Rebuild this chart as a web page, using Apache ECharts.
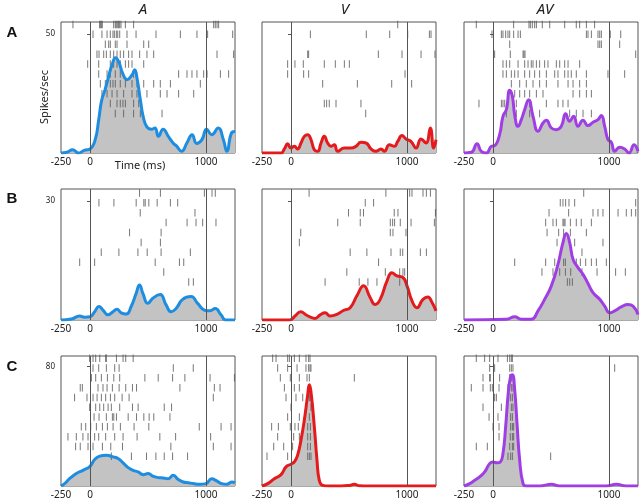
<!DOCTYPE html>
<html><head><meta charset="utf-8">
<script src="https://cdn.jsdelivr.net/npm/echarts@6/dist/echarts.min.js"></script>
<style>html,body{margin:0;padding:0;background:#fff}#c{width:640px;height:500px}</style>
</head><body><div id="c"></div>
<script>
const conditions = ['A', 'V', 'AV'];
const rowNames = ['A', 'B', 'C'];
const xTickLabels = [-250, 0, 1000];
const stimLines = [0, 1000];
const rateTicks = [50, 30, 80];
const rateMax = [55, 33, 87];
const lineColors = ['#1c8de0', '#e41a1c', '#a03ee6'];

// PSTH (time ms, spikes/sec)
const psthA_A = [[-250,0],[-200,0.3],[-150,1.4],[-100,0],[-50,1.1],[0,1.7],[45,5.6],[75,14],[100,22],[130,26.6],[160,32],[190,37],[220,40],[250,38],[280,33.6],[320,30.8],[365,33],[385,35],[405,31.5],[435,22],[460,15],[490,11],[530,10],[560,10.5],[590,7],[630,10],[675,7],[720,4],[745,3],[790,0.7],[835,4.2],[880,7.7],[920,4],[965,5.6],[1005,10],[1050,7.7],[1105,10.5],[1150,5.6],[1180,0.7],[1220,8.4],[1250,9]];
const psthV_A = [[-250,0],[-86,0],[-57,1.7],[-29,3.9],[0,2.1],[29,2.8],[57,1.7],[86,4.2],[115,7],[144,7.7],[172,5.6],[201,1.4],[230,0.7],[259,4.2],[287,7],[316,4.2],[345,2.8],[374,3.5],[402,0.7],[460,2.1],[517,2.1],[560,2.8],[603,4.5],[647,4.2],[690,1.7],[733,0.7],[776,1.7],[805,0.7],[848,3.5],[891,2.8],[920,4.9],[957,7.3],[991,5.9],[1034,4.9],[1078,2.1],[1121,5.9],[1164,4.2],[1201,10.5],[1230,2.1],[1250,5.6]];
const psthAV_A = [[-250,0],[-187,0.3],[-138,3.9],[-101,0.7],[-57,0],[-14,2.8],[14,3.1],[57,7.7],[86,15.4],[115,18.2],[144,26.3],[167,23.8],[187,16],[216,11.2],[244,14],[273,18.2],[307,22.4],[345,15.4],[388,9.1],[431,12.6],[460,13.7],[503,10.5],[546,9.8],[589,11.2],[626,16.5],[661,13.3],[695,15.4],[733,11.2],[776,13.7],[819,11.5],[862,12.9],[905,14],[934,15.7],[963,11.2],[991,5.6],[1020,4.5],[1049,0.7],[1092,2.4],[1135,1.7],[1172,0],[1216,3.5],[1250,0.7]];
const psthA_B = [[-250,0],[-161,0.25],[-89,1.0],[-46,0.7],[0,0.8],[40,2.1],[77,3.4],[112,2.5],[155,1.3],[198,2.1],[232,2.7],[269,1.8],[312,1.5],[355,3.4],[398,6.7],[427,8.8],[456,6.7],[499,4.2],[542,5.5],[605,6.4],[656,3.8],[699,2.1],[742,2.9],[799,5.2],[871,5.9],[928,4.2],[986,2.5],[1029,2.3],[1080,2.9],[1129,1.3],[1172,0],[1250,0]];
const psthV_B = [[-250,0],[-9,0],[35,1.0],[84,2.1],[135,1.2],[207,0.4],[251,1.3],[294,1.8],[337,1.0],[395,1.4],[452,2.4],[510,3.1],[568,6.1],[626,8.6],[683,5.6],[726,3.9],[769,5.2],[827,9.8],[870,11.9],[914,11.1],[965,10.7],[1000,8.6],[1043,4.8],[1086,3.1],[1138,5.2],[1179,5.8],[1216,4.4],[1250,2.3]];
const psthAV_B = [[-250,0],[115,0.2],[187,0.8],[244,0.2],[330,0.2],[388,2.3],[445,5.2],[503,8.6],[560,14],[603,19.5],[632,21.8],[661,19.5],[690,15.3],[733,13.2],[776,11.5],[819,9.2],[862,6.9],[920,5.2],[963,3.5],[1006,1.8],[1049,2.3],[1106,3.3],[1164,3.9],[1207,3.5],[1250,1.4]];
const psthA_C = [[-250,0],[-219,1.6],[-176,4.9],[-118,8.3],[-61,10.5],[0,13.2],[40,17.7],[84,20],[141,20.6],[199,19.5],[242,18.4],[285,15.5],[329,12.3],[372,10.5],[415,9.4],[458,7.6],[501,8.3],[545,6.5],[588,5.6],[631,5.4],[674,4.9],[718,7.2],[761,4.3],[804,2.7],[847,2.2],[890,1.6],[948,1.1],[1000,1.6],[1049,4.9],[1092,3.4],[1135,1.6],[1179,1.1],[1222,2.7],[1250,2.0]];
const psthV_C = [[-250,0],[-201,1.6],[-144,4.9],[-86,7.6],[-43,12.8],[0,14.6],[29,16.1],[57,20.6],[86,30.7],[115,44.2],[144,61],[158,67.7],[172,63.2],[201,39.7],[224,17.3],[244,3.8],[273,0.4],[330,0],[431,0],[503,0.4],[546,1.1],[589,0.2],[661,0],[1250,0]];
const psthAV_C = [[-250,0],[-201,1.6],[-158,3.8],[-115,6.1],[-72,9.4],[-29,15],[0,16.1],[34,15.5],[63,16.1],[86,21.7],[109,39.7],[129,59.9],[149,72.2],[167,74.4],[187,64.3],[207,41.9],[230,17.3],[259,1.6],[287,0],[402,0],[503,1.1],[575,0],[977,0],[1063,1.1],[1149,0],[1250,0]];

// Rasters: one array of spike times (ms) per trial
const rasterA_A = [
[-147,83,89,98,106,204,218,227,239,247,256,267,305,376,1066,1080,1095,1109],
[26,103,147,175,198,210,227,239,256,319,397,569,779,922,1014,1230],
[132,161,175,218,233,319,463,506],
[60,78,118,141,175,204,233,261,290,333,362,428,491,549,1095,1238],
[-20,75,175,204,233,261,305,333,362,463],
[75,147,175,218,261,376,764,836,879,922,980,1009,1124,1195],
[89,132,175,198,218,261,305,362,405,463,549,606,693,951],
[103,147,190,233,290,362,405,491,606,664,764,894],
[175,233,261,284,305,376,420],
[218,290,376,434,621]];
const rasterV_A = [
[920],
[167,649,851,1006,1193,1207],
[],
[144,152,753,957,1121,1241],
[-29,34,106,287,382,460,503],
[-29,109,152,983],
[273,572,868,1040],
[],
[287,307,330,388,603],
[644]];
const rasterAV_A = [
[-144,178,310,322,339,359,374,425,489,618,718,747,805,876],
[-9,72,86,109,129,144,178,216,236,805,819,848,905,920,934,1011,1101],
[144,905,920,934,1092],
[14,149,259,267,276,1230],
[86,115,144,216,273,302,330,345,374,402,445,474,546,575,618,647,747],
[86,115,158,187,216,273,316,359,402,460,532,560,618,647,675,718,805,991,1135],
[158,230,287,345,402,460,560,647,690,747,805],
[187,230,273,316,374,431,690,747,805,848],
[-121,72,86,101,201,316,460,560,603,647],
[115,201,316,402,661,718,776,848]];
const rasterA_B = [
[427,607,986,1052,1080],
[77,206,398,464,476,507,579,693,756],
[433,905],
[656,837,914,971,1086],
[341,613],
[441,607],
[97,249,413,493,613,865],
[-89,40,562,771,808],
[636],
[851,891]];
const rasterV_B = [
[156,818,1023,1043,1138,1167,1202],
[640,712],
[496,597,625,890,922,1245],
[403,597,856,876,893,942,1035,1236],
[84,856,879,991],
[72],
[510,654,862,942,963,1115,1167],
[755],
[481,813,937,965,980],
[294,588,663,741,937]];
const rasterAV_B = [
[782],
[580,603,626,655,704,1230],
[483,652,862,905,948,1078,1149,1193,1230],
[454,517,546,603,612,621,667,718,761,848],
[466,566,609,667,805],
[552,661,704,948],
[767],
[187,454,532,609,624,718,753,799,848,891,977],
[422,517,575,624,670,767,897,1057,1141],
[641,661,684]];
const rasterA_C = [
[-3,26,49,84,135,141,228,285,308,372],
[26,75,141,213,251,718,890],
[12,49,98,150,205,256,473,588,712,818,1035,1245],
[-84,-66,69,112,147,193,251,308,366,401,775,1072,1121],
[-133,-26,26,61,98,135,176,213,277,337,1063],
[-3,49,84,118,156,184,256,366,415,640,703],
[35,78,141,193,205,228,329,401,464,510,550,689],
[-75,-37,6,55,107,150,199,262,380,507,942,1130,1216],
[-190,-118,-61,-17,40,75,135,213,285,406,602,738,1040],
[-124,-84,-17,26,107,179,280,697,1063,1216],
[184,357,487,568,640,712,841]];
const rasterV_C = [
[-158,-129,-29,-14,29,72,129,152,164],
[-115,-29,52,129,152,164,172],
[-92,-6,72,138,158,546],
[-57,29,72,158],
[-43,43,101,158,172],
[0,172],
[-29,72,158],
[-167,-109,-6,34,63,144,167],
[-115,23,72,144,167],
[-149,-63,14,144,167],
[-207,-29,144,158,172]];
const rasterAV_C = [
[-144,-72,-29,43,124,144,158,167],
[-29,14,144,158,172,1049],
[-86,-29,-23,57,144,158,172],
[-187,-86,-23,-6,52,129,158,172],
[14,29,152,167],
[-86,72,158,172],
[-34,43,152,167],
[0,52,152,167,178],
[52,149,167,178],
[-144,-49,144,167,178],
[129,152,167,497]];

const psths = [[psthA_A, psthV_A, psthAV_A],[psthA_B, psthV_B, psthAV_B],[psthA_C, psthV_C, psthAV_C]];
const rasters = [[rasterA_A, rasterV_A, rasterAV_A],[rasterA_B, rasterV_B, rasterAV_B],[rasterA_C, rasterV_C, rasterAV_C]];

// layout
const gridLeft = [61, 262, 464];
const gridTop = [22, 189, 356];
const gridH = [131, 131, 130];
const gridW = 174;
const trialRange = [[-0.25, 13.0], [-0.4, 12.85], [-0.23, 13.04]];
const FONT = 'Noto Sans';

const grid = [], xAxis = [], yAxis = [], series = [];
for (let r = 0; r < 3; r++) {
  for (let c = 0; c < 3; c++) {
    const g = r * 3 + c;
    grid.push({left: gridLeft[c], top: gridTop[r], width: gridW, height: gridH[r],
      show: true, borderColor: '#555', borderWidth: 1, backgroundColor: 'transparent'});
    xAxis.push({type: 'value', gridIndex: g, min: -250, max: 1250,
      axisLine: {show: false}, axisTick: {show: false}, splitLine: {show: false},
      axisLabel: {customValues: xTickLabels, formatter: v => String(v), fontSize: 10, margin: 4, color: '#222', fontFamily: FONT}});
    yAxis.push({type: 'value', gridIndex: g, min: 0, max: rateMax[r],
      axisLine: {show: false}, splitLine: {show: false},
      axisTick: {show: true, customValues: [rateTicks[r]], length: 3, lineStyle: {color: '#555'}},
      axisLabel: {show: c === 0, customValues: [rateTicks[r]], formatter: v => String(v), fontSize: 8, margin: 6, color: '#222', fontFamily: FONT}});
    yAxis.push({type: 'value', gridIndex: g, min: trialRange[r][0], max: trialRange[r][1], inverse: true, show: false});
    const data = psths[r][c];
    series.push({type: 'line', xAxisIndex: g, yAxisIndex: 2 * g, data: data, smooth: 0.5,
      symbol: 'none', lineStyle: {width: 0}, areaStyle: {color: '#c3c3c3', opacity: 1}, z: 1, silent: true,
      markLine: {silent: true, symbol: 'none', label: {show: false},
        lineStyle: {color: '#555', width: 1, type: 'solid'},
        data: stimLines.map(v => ({xAxis: v}))}});
    const pts = [];
    rasters[r][c].forEach((trial, k) => trial.forEach(t => pts.push([t, k])));
    series.push({type: 'scatter', xAxisIndex: g, yAxisIndex: 2 * g + 1, data: pts,
      symbol: 'rect', symbolSize: [1, 7.5], itemStyle: {color: '#555'}, z: 2, silent: true});
    series.push({type: 'line', xAxisIndex: g, yAxisIndex: 2 * g, data: data, smooth: 0.5,
      symbol: 'none', lineStyle: {width: 3, color: lineColors[c]}, z: 3, silent: true});
  }
}

const graphic = [];
const colCenters = [143, 345, 545];
conditions.forEach((t, c) => graphic.push({type: 'text', x: colCenters[c], y: 10,
  style: {text: t, font: 'italic 15px "Noto Sans"', fill: '#222', textAlign: 'center', textVerticalAlign: 'middle'}}));
const rowY = [33, 199, 367];
rowNames.forEach((t, r) => graphic.push({type: 'text', x: 12, y: rowY[r],
  style: {text: t, font: 'bold 15px "Liberation Sans"', fill: '#111', textAlign: 'center', textVerticalAlign: 'middle'}}));
graphic.push({type: 'text', x: 45, y: 97, rotation: Math.PI / 2,
  style: {text: 'Spikes/sec', font: '11px "Noto Sans"', fill: '#222', textAlign: 'center', textVerticalAlign: 'middle'}});
graphic.push({type: 'text', x: 140, y: 166,
  style: {text: 'Time (ms)', font: '11px "Noto Sans"', fill: '#222', textAlign: 'center', textVerticalAlign: 'middle'}});

const chart = echarts.init(document.getElementById('c'));
chart.setOption({animation: false, grid, xAxis, yAxis, series, graphic});
</script></body></html>
